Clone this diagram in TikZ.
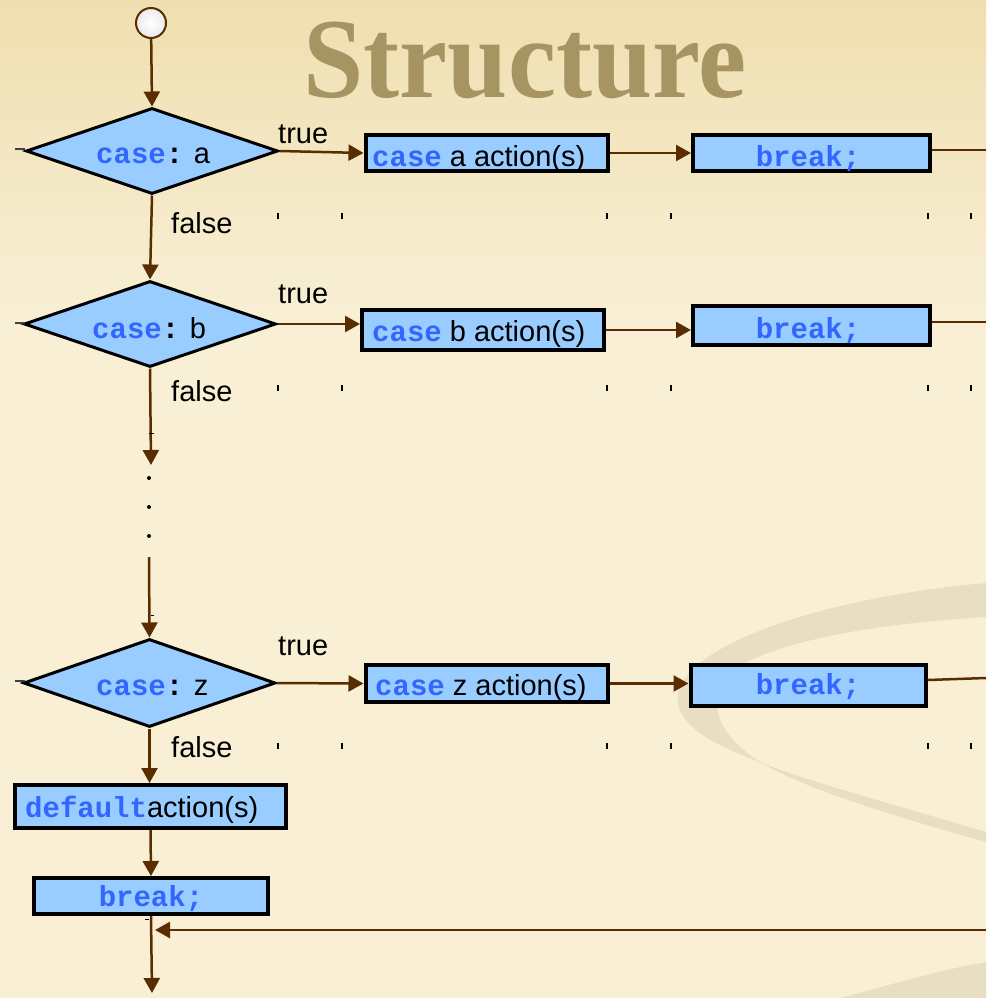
\documentclass[tikz,border=0pt]{standalone}
\usepackage{fontspec}
\usepackage{graphicx}
\setmainfont{Liberation Sans}
\newfontfamily\codefont{Liberation Mono}
\newfontfamily\titlefont{Liberation Serif}
\usetikzlibrary{shapes.geometric,arrows.meta}

\definecolor{bgtop}{HTML}{EFDFB0}
\definecolor{bgbot}{HTML}{F8EFD5}
\definecolor{swirl}{HTML}{E8DEC3}
\definecolor{boxfill}{HTML}{99CCFF}
\definecolor{codeblue}{HTML}{3366FF}
\definecolor{flow}{HTML}{5A2D00}
\definecolor{titlecol}{HTML}{A69563}

% keyword in bold blue typewriter
\newcommand\cw[1]{{\codefont\bfseries\fontsize{29}{32}\selectfont\color{codeblue}#1}}
\newcommand\cwk[1]{{\codefont\bfseries\fontsize{29}{32}\selectfont #1}}

\begin{document}
\begin{tikzpicture}[x=1pt,y=-1pt,
  box/.style={rectangle,draw=black,line width=4pt,fill=boxfill,inner sep=0pt},
  decision/.style={diamond,draw=black,line width=3pt,fill=boxfill,inner sep=0pt,
    minimum width=252pt,minimum height=86pt},
  flowline/.style={draw=flow,line width=2.5pt},
  flowarrow/.style={flowline,-{Triangle[width=16pt,length=15pt]}},
  txt/.style={inner sep=0pt,anchor=base west,font=\fontsize{29}{32}\selectfont},
  ctxt/.style={inner sep=0pt,anchor=base},
  tick/.style={draw=black,line width=#1},
  tick/.default=1.5pt,
  dot/.style={circle,fill=black,inner sep=0pt,minimum size=4pt}
]
\useasboundingbox (0,0) rectangle (986,998);

% background
\shade[top color=bgtop,bottom color=bgbot] (0,0) rectangle (986,320);
\fill[bgbot] (0,319) rectangle (986,998);
\fill[swirl] (986,583) .. controls (850,595) and (730,630) .. (690,672)
  .. controls (665,700) and (680,725) .. (720,745)
  .. controls (780,775) and (880,800) .. (986,832) -- (986,842)
  .. controls (890,815) and (790,785) .. (750,755)
  .. controls (710,725) and (705,690) .. (745,663)
  .. controls (800,635) and (900,622) .. (986,617) -- cycle;
\fill[swirl] (840,998) .. controls (890,985) and (940,970) .. (986,962) -- (986,998) -- cycle;

% title
\node[ctxt,text=titlecol,font=\titlefont\bfseries\fontsize{114}{120}\selectfont] (title) at (525,97)
  {\scalebox{0.95}[1]{Structure}};

% start
\node[circle,draw=flow,line width=2pt,minimum size=30pt,inner sep=0pt,
  inner color=white,outer color=black!8] (start) at (151,23) {};

% decisions
\node[decision] (da) at (152,151) {};
\node[decision] (db) at (150,324) {};
\node[decision,minimum height=88pt] (dz) at (149.5,683) {};
\node[txt] (tda) at (96,163) {\cw{case}\cwk{:} a};
\node[txt] (tdb) at (92,338) {\cw{case}\cwk{:} b};
\node[txt] (tdz) at (96,695) {\cw{case}\cwk{:} z};

% action boxes
\node[box,minimum width=242pt,minimum height=36pt] (aa) at (486.5,153) {};
\node[box,minimum width=242pt,minimum height=40pt] (ab) at (483,330) {};
\node[box,minimum width=242pt,minimum height=37pt] (az) at (486.5,683.5) {};
\node[txt] (taa) at (372,166) {\cw{case} a action(s)};
\node[txt] (tab) at (372,341) {\cw{case} b action(s)};
\node[txt] (taz) at (375,695) {\cw{case} z action(s)};

% break boxes
\node[box,minimum width=237pt,minimum height=36pt] (ba) at (811.5,153) {};
\node[box,minimum width=237pt,minimum height=39pt] (bb) at (811.5,325.5) {};
\node[box,minimum width=235pt,minimum height=41pt] (bz) at (808,685.5) {};
\node[ctxt] (tba) at (808,166) {\cw{break;}};
\node[ctxt] (tbb) at (808,338) {\cw{break;}};
\node[ctxt] (tbz) at (808,694) {\cw{break;}};

% default branch
\node[box,minimum width=271pt,minimum height=43pt] (df) at (150.5,806.5) {};
\node[txt] (tdf) at (25,817) {\cw{default}action(s)};
\node[box,minimum width=234pt,minimum height=36pt] (bd) at (151,896) {};
\node[ctxt] (tbd) at (151,906) {\cw{break;}};

% branch labels
\node[txt] (ya) at (278,143) {true};
\node[txt] (yb) at (278,303) {true};
\node[txt] (yz) at (278,655) {true};
\node[txt] (na) at (171,233) {false};
\node[txt] (nb) at (171,401) {false};
\node[txt] (nz) at (171,757) {false};

% ellipsis between b and z
\node[dot] (e1) at (149,478) {};
\node[dot] (e2) at (149,507) {};
\node[dot] (e3) at (149,536) {};
\coordinate (gapT) at (151,465);
\coordinate (gapB) at (149,557);

% exits to the right edge and the merge line
\coordinate (xa) at (986,150);
\coordinate (xb) at (986,322);
\coordinate (xz) at (986,678);
\coordinate (rin) at (986,930);
\coordinate (rtip) at (155,930);
\coordinate (out) at (152,993);

% connectors
\draw[flowarrow] (start) -- (da.north);
\draw[flowarrow] (da.east) -- (aa.west);
\draw[flowarrow] (aa.east) -- (ba.west);
\draw[flowline] (ba.east |- xa) -- (xa);
\draw[flowarrow] (da.south) -- (db.north);
\draw[flowarrow] (db.east) -- (ab.west |- db.east);
\draw[flowarrow] (ab.east) -- (bb.west |- ab.east);
\draw[flowline] (bb.east |- xb) -- (xb);
\draw[flowarrow] (db.south) -- (gapT);
\draw[flowarrow] (gapB) -- (dz.north);
\draw[flowarrow] (dz.east) -- (az.west);
\draw[flowarrow] (az.east) -- (bz.west |- az.east);
\draw[flowline] (bz.east |- 0,680) -- (xz);
\draw[flowarrow] (dz.south) -- (df.north -| dz.south);
\draw[flowarrow] (df.south) -- (bd.north);
\draw[flowarrow] (bd.south) -- (out);
\draw[flowarrow] (rin) -- (rtip);

% small marks
\foreach \y in {149,323,681} \draw[line width=1.5pt,black!75] (15,\y) -- (25,\y);
\foreach \x/\w in {278/1.5pt,342/1.5pt,607/1.5pt,671/2.5pt,928/2.5pt,971/1.5pt}
  \foreach \y in {216,388,746} \draw[tick=\w] (\x,\y-3) -- (\x,\y+3);
\draw[line width=1pt] (149,433) -- (154,433);
\draw[line width=1pt] (151,615) -- (154,615);
\draw[line width=1pt] (145,919) -- (149,919);
\end{tikzpicture}
\end{document}
